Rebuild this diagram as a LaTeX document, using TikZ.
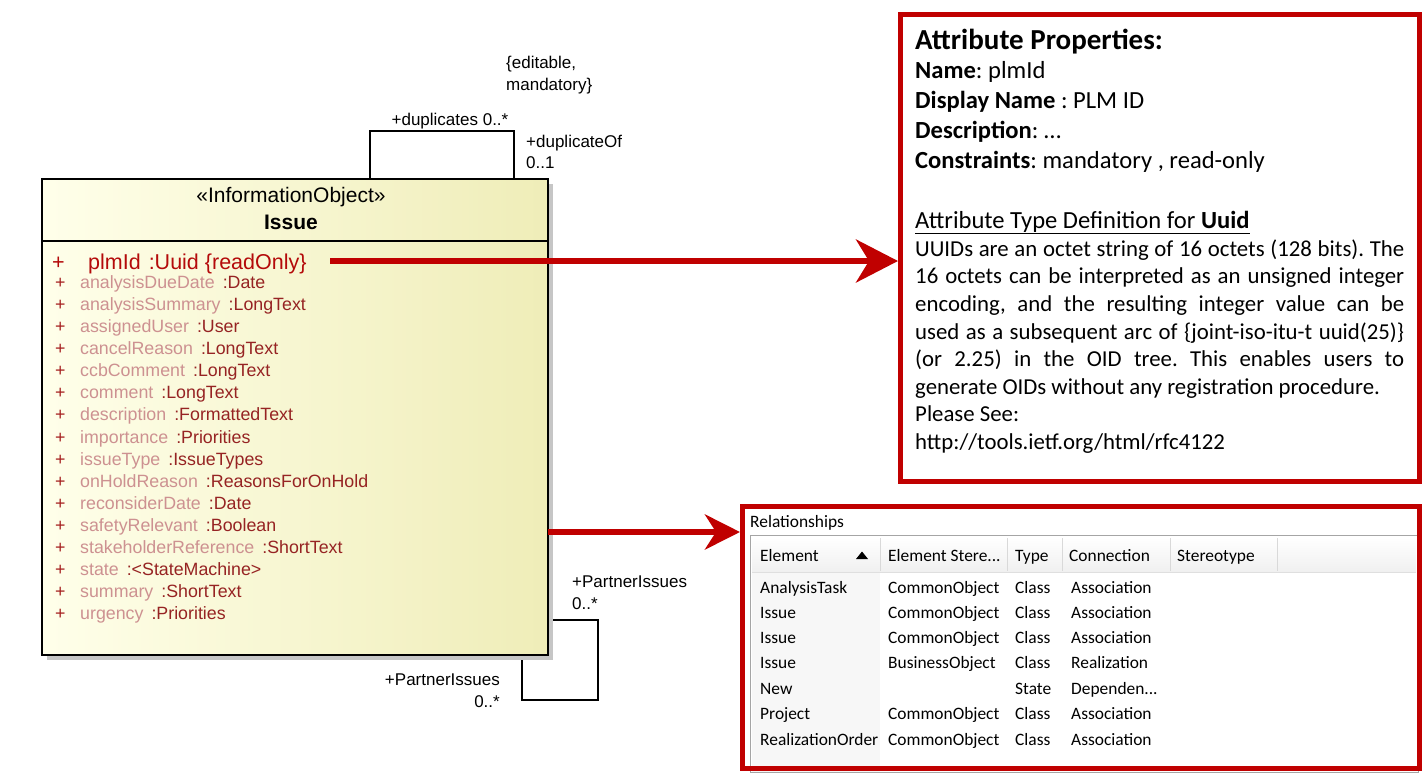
\documentclass[tikz,border=0pt]{standalone}
\usepackage{fontspec}
\setmainfont{Liberation Sans}
\newfontfamily\calfont{Carlito}
\usepackage{tikz}
\usetikzlibrary{arrows.meta,positioning,calc,shadows}
\usepackage{xcolor}
\definecolor{umlRed}{RGB}{192,0,0}
\definecolor{attrPlus}{RGB}{165,30,30}
\definecolor{attrName}{RGB}{205,145,145}
\definecolor{attrType}{RGB}{150,35,35}
\definecolor{plmRed}{RGB}{180,10,10}
\definecolor{clsLight}{RGB}{255,255,234}
\definecolor{clsDark}{RGB}{239,237,184}
\definecolor{gridGray}{RGB}{165,165,165}
\newcommand{\attrrow}[2]{\makebox[25pt][l]{\textcolor{attrPlus}{+}}\textcolor{attrName}{#1}\hspace{8pt}\textcolor{attrType}{:#2}}
\frenchspacing

\begin{document}
\begin{tikzpicture}[
  x=1pt,y=-1pt,
  every node/.style={inner sep=0pt},
  attr/.style={anchor=base west,font=\fontsize{17.8}{20}\selectfont},
  role/.style={anchor=base west,font=\fontsize{17}{20}\selectfont},
  prop/.style={anchor=base west,font=\calfont\fontsize{24.6}{30}\selectfont},
  cell/.style={anchor=base west,font=\calfont\fontsize{17.4}{21}\selectfont},
  redbox/.style={draw=umlRed,line width=5pt},
  assoc/.style={draw=black,line width=1.2pt},
  bigarrow/.style={draw=umlRed,line width=6pt,-{Stealth[length=42pt,width=43pt,inset=13pt]}},
  smallarrow/.style={draw=umlRed,line width=6pt,-{Stealth[length=35pt,width=35pt,inset=11pt]}}
]
\useasboundingbox (0,0) rectangle (1426,774);

\coordinate (dupS) at (370,179);
\coordinate (dupE) at (514,179);
\draw[assoc] (dupS) -- ++(0,-48) -| (dupE);
\coordinate (partS) at (548,620);
\coordinate (partE) at (522,655);
\draw[assoc] (partS) -| (598,700) -| (partE);

\node[draw,line width=1.2pt,left color=clsLight,right color=clsDark,
  drop shadow={shadow xshift=5pt,shadow yshift=-5pt,fill=gray!45,opacity=1},
  minimum width=506pt,minimum height=476pt] (issue) at (295,417) {};
\draw[assoc] (issue.west |- 0,241) -- (issue.east |- 0,241);
\node[anchor=base,font=\fontsize{21}{24}\selectfont] (stereo) at (291,202) {«InformationObject»};
\node[anchor=base,font=\bfseries\fontsize{21}{24}\selectfont] (clsName) at (291,229) {Issue};

\node[anchor=base west,font=\fontsize{21.5}{24}\selectfont,plmRed] (plm) at (52,269)
  {\makebox[36pt][l]{+}plmId\hspace{8pt}:Uuid \{readOnly\}};
\node[attr] (a1) at (55,288) {\attrrow{analysisDueDate}{Date}};
\node[attr] (a2) at (55,310) {\attrrow{analysisSummary}{LongText}};
\node[attr] (a3) at (55,332) {\attrrow{assignedUser}{User}};
\node[attr] (a4) at (55,354) {\attrrow{cancelReason}{LongText}};
\node[attr] (a5) at (55,376.5) {\attrrow{ccbComment}{LongText}};
\node[attr] (a6) at (55,398.5) {\attrrow{comment}{LongText}};
\node[attr] (a7) at (55,420.5) {\attrrow{description}{FormattedText}};
\node[attr] (a8) at (55,443) {\attrrow{importance}{Priorities}};
\node[attr] (a9) at (55,465) {\attrrow{issueType}{IssueTypes}};
\node[attr] (a10) at (55,487) {\attrrow{onHoldReason}{ReasonsForOnHold}};
\node[attr] (a11) at (55,509) {\attrrow{reconsiderDate}{Date}};
\node[attr] (a12) at (55,531) {\attrrow{safetyRelevant}{Boolean}};
\node[attr] (a13) at (55,553) {\attrrow{stakeholderReference}{ShortText}};
\node[attr] (a14) at (55,575.5) {\attrrow{state}{<StateMachine>}};
\node[attr] (a15) at (55,597.5) {\attrrow{summary}{ShortText}};
\node[attr] (a16) at (55,619.5) {\attrrow{urgency}{Priorities}};

\node[role,anchor=base] (rDup) at (450,125) {+duplicates 0..*};
\node[role] (rDupOf) at (526,147) {+duplicateOf};
\node[role] (rDupOfM) at (526,168) {0..1};
\node[role] (cEdit) at (506,68) {\{editable,};
\node[role] (cMand) at (506,90) {mandatory\}};
\node[role] (rPart) at (572,587) {+PartnerIssues};
\node[role] (rPartM) at (572,609) {0..*};
\node[role,anchor=base east] (rPartB) at (500,685) {+PartnerIssues};
\node[role,anchor=base east] (rPartBM) at (500,707) {0..*};

\node[redbox,minimum width=519pt,minimum height=467pt] (props) at (1160,248) {};
\node[prop,font=\calfont\bfseries\fontsize{29}{34}\selectfont] (pTitle) at (915,49) {Attribute Properties:};
\node[prop] (pName) at (915,78) {\textbf{Name}: plmId};
\node[prop] (pDisp) at (915,108) {\textbf{Display Name} : PLM ID};
\node[prop] (pDesc) at (915,138) {\textbf{Description}: …};
\node[prop] (pCons) at (915,168) {\textbf{Constraints}: mandatory , read-only};
\node[prop] (pType) at (915,228) {\underline{Attribute Type Definition for \textbf{Uuid}}};
\node[prop,anchor=north west,text width=489pt,align=justify,
  font=\calfont\fontsize{22.8}{27.6}\selectfont] (pDef) at (915,239.5)
  {UUIDs are an octet string of 16 octets (128 bits). The\linebreak
   16 octets can be interpreted as an unsigned integer\linebreak
   encoding, and the resulting integer value can be\linebreak
   used as a subsequent arc of \{joint-iso-itu-t uuid(25)\}\linebreak
   (or 2.25) in the OID tree. This enables users to\linebreak
   generate OIDs without any registration procedure.\\
   Please See:\\
   http://tools.ietf.org/html/rfc4122};

\draw[gridGray,fill=white] (750,535) rectangle (1418,772);
\shade[top color=white,bottom color=gray!12] (752,537) rectangle (1416,572);
\fill[gray!6] (752,573) rectangle (880,772);
\draw[gray!25] (752,572.5) -- (1416,572.5);
\draw[gray!30] (880,538) -- (880,571) (1007,538) -- (1007,571) (1062,538) -- (1062,571)
  (1170,538) -- (1170,571) (1277,538) -- (1277,571);
\fill (856,559) -- (868,559) -- (862,551.5) -- cycle;
\node[cell] (relTitle) at (750,527) {Relationships};
\node[cell] (hElem) at (760,561) {Element};
\node[cell] (hStereo) at (888,561) {Element Stere...};
\node[cell] (hType) at (1015,561) {Type};
\node[cell] (hConn) at (1069,561) {Connection};
\node[cell] (hStereoB) at (1177,561) {Stereotype};

\node[cell] (e1) at (760,593) {AnalysisTask};
\node[cell] (s1) at (888,593) {CommonObject};
\node[cell] (t1) at (1015,593) {Class};
\node[cell] (c1) at (1071,593) {Association};
\node[cell] (e2) at (760,618) {Issue};
\node[cell] (s2) at (888,618) {CommonObject};
\node[cell] (t2) at (1015,618) {Class};
\node[cell] (c2) at (1071,618) {Association};
\node[cell] (e3) at (760,643) {Issue};
\node[cell] (s3) at (888,643) {CommonObject};
\node[cell] (t3) at (1015,643) {Class};
\node[cell] (c3) at (1071,643) {Association};
\node[cell] (e4) at (760,668.5) {Issue};
\node[cell] (s4) at (888,668.5) {BusinessObject};
\node[cell] (t4) at (1015,668.5) {Class};
\node[cell] (c4) at (1071,668.5) {Realization};
\node[cell] (e5) at (760,694) {New};
\node[cell] (t5) at (1015,694) {State};
\node[cell] (c5) at (1071,694) {Dependen...};
\node[cell] (e6) at (760,719) {Project};
\node[cell] (s6) at (888,719) {CommonObject};
\node[cell] (t6) at (1015,719) {Class};
\node[cell] (c6) at (1071,719) {Association};
\node[cell] (e7) at (760,745) {RealizationOrder};
\node[cell] (s7) at (888,745) {CommonObject};
\node[cell] (t7) at (1015,745) {Class};
\node[cell] (c7) at (1071,745) {Association};
\node[redbox,minimum width=677pt,minimum height=262pt] (rel) at (1081,637.5) {};

\coordinate (plmOut) at (330,261);
\draw[bigarrow] (plmOut) -- (plmOut -| props.west);
\coordinate (relOut) at (548,532);
\draw[smallarrow] (relOut) -- (relOut -| rel.west);
\end{tikzpicture}
\end{document}
